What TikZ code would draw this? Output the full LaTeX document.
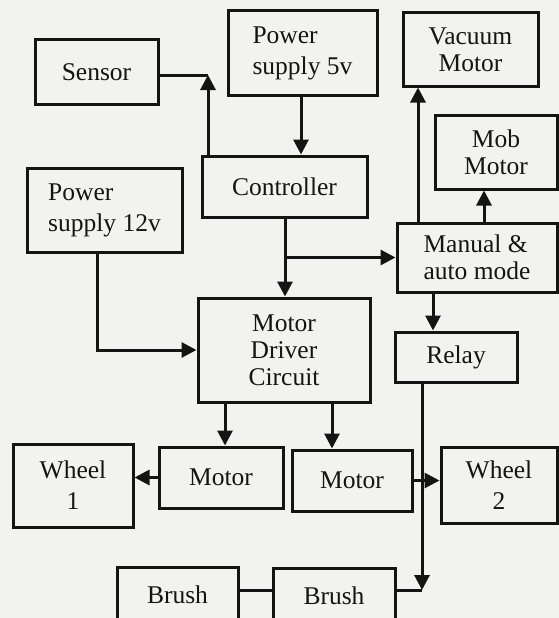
\documentclass[tikz,border=0pt]{standalone}
\usepackage{fontspec}
\setmainfont{Liberation Serif}
\usetikzlibrary{arrows.meta}
\definecolor{paper}{RGB}{242,242,240}
\definecolor{ink}{RGB}{20,20,20}
\begin{document}
\begin{tikzpicture}[x=1pt,y=-1pt,
  blk/.style={draw=ink,line width=3pt,fill=paper,inner sep=0pt,
    font=\fontsize{25.5}{27}\selectfont,text=ink},
  wide/.style={font=\fontsize{25.5}{31}\selectfont},
  arr/.style={draw=ink,line width=3pt,-{Triangle[length=15pt,width=15pt]}},
  ln/.style={draw=ink,line width=3pt}]
\useasboundingbox[fill=paper] (0,0) rectangle (559,618);
% boxes: centre + size from pixel corners
\newcommand{\blkbox}[7][align=center]{%
  \node[blk,#1,minimum width={#5-#3},minimum height={#6-#4}] (#2) at ({(#3+#5)/2},{(#4+#6)/2}) {#7};}
\blkbox{sensor}{35}{40}{158}{104}{Sensor}
\blkbox[align=left,wide]{psfive}{228}{11}{377}{95}{Power\\supply 5v}
\blkbox{ctrl}{202}{156}{367}{217}{Controller}
\blkbox[align=left,wide]{pstwelve}{27}{168}{182}{252}{Power\\supply 12v}
\blkbox{mdc}{198}{298}{370}{402}{Motor\\Driver\\Circuit}
\blkbox{vac}{403}{13}{538}{86}{Vacuum\\Motor}
\blkbox{mob}{435}{115}{557}{189}{Mob\\Motor}
\blkbox[align=left]{man}{397}{223}{557}{292}{Manual \&\\auto mode}
\blkbox{relay}{395}{332}{517}{382}{Relay}
\blkbox{mone}{159}{447}{283}{508}{Motor}
\blkbox{mtwo}{292}{450}{412}{511}{Motor}
\blkbox[align=center,wide]{wone}{13}{444}{133}{527}{Wheel\\1}
\blkbox[align=center,wide]{wtwo}{441}{447}{557}{523}{Wheel\\2}
\blkbox{bone}{117}{567}{238}{623}{Brush}
\blkbox{btwo}{273}{568}{395}{623}{Brush}
% helper coordinates
\coordinate (jsen) at (208,75);
\coordinate (xfive) at (301,0);
\coordinate (xctl) at (285,0);
\coordinate (xtw) at (97,0);
\coordinate (xvac) at (418,0);
\coordinate (xmob) at (484,0);
\coordinate (xrel) at (433,0);
\coordinate (jbr) at (422,590);
\coordinate (xmone) at (225,0);
\coordinate (xmtwo) at (332,0);
% connectors
\draw[ln] (sensor.east |- jsen) -- (jsen);
\draw[arr] (ctrl.north -| jsen) -- (jsen);
\draw[arr] (psfive.south -| xfive) -- (ctrl.north -| xfive);
\draw[arr] (ctrl.south -| xctl) -- (mdc.north -| xctl);
\draw[arr] (man.west -| xctl) -- (man.west);
\draw[arr] (pstwelve.south -| xtw) |- (mdc.west);
\draw[arr] (man.north -| xvac) -- (vac.south -| xvac);
\draw[arr] (man.north -| xmob) -- (mob.south -| xmob);
\draw[arr] (man.south -| xrel) -- (relay.north -| xrel);
\draw[arr] (relay.south -| jbr) -- (jbr);
\draw[ln] (btwo.east |- jbr) -- (jbr);
\draw[ln] (bone.east |- jbr) -- (btwo.west |- jbr);
\draw[arr] (mdc.south -| xmone) -- (mone.north -| xmone);
\draw[arr] (mdc.south -| xmtwo) -- (mtwo.north -| xmtwo);
\draw[arr] (mone.west) -- (wone.east |- mone.west);
\draw[arr] (mtwo.east) -- (wtwo.west |- mtwo.east);
\end{tikzpicture}
\end{document}
